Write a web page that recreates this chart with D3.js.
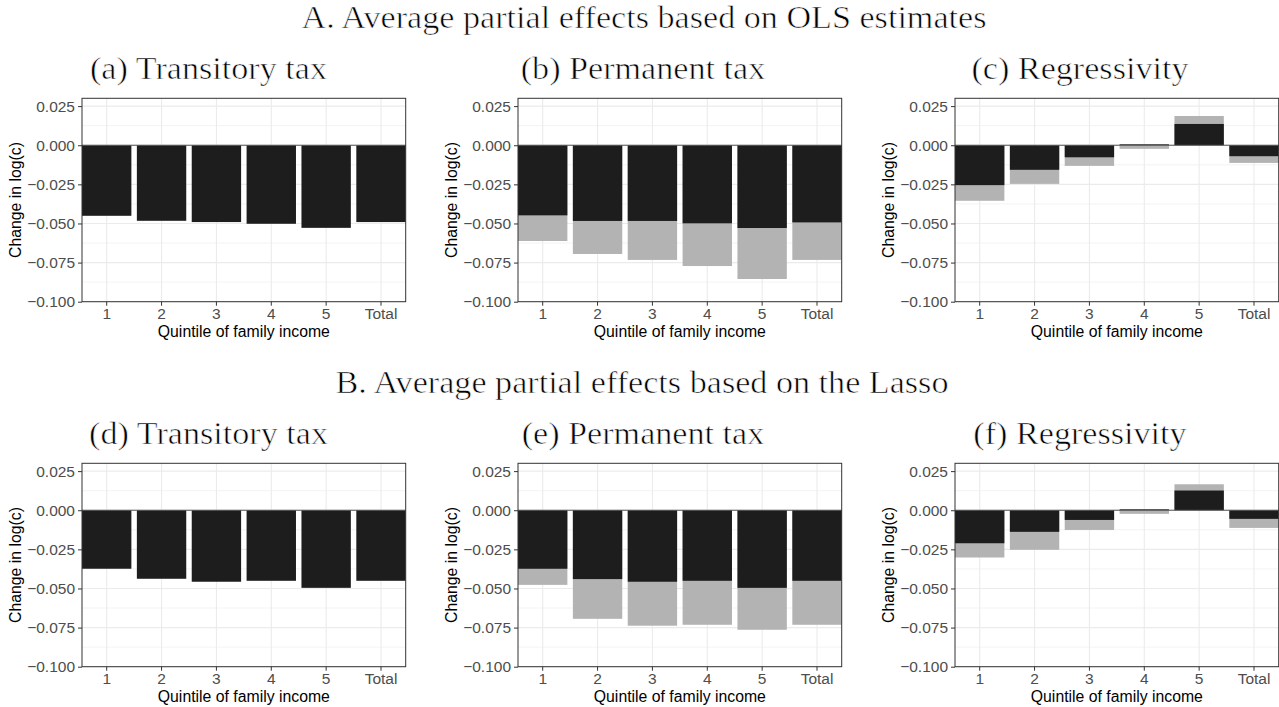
<!DOCTYPE html>
<html>
<head>
<meta charset="utf-8">
<script src="https://cdn.jsdelivr.net/npm/d3@7"></script>
<style>
  body { margin: 0; background: #fff; }
  svg { display: block; }
  .axis path { display: none; }
  .axis line { stroke: #333; }
  .axis text { fill: #4d4d4d; font-family: 'Liberation Sans', Arial, sans-serif; font-size: 15.5px; }
  .serif { font-family: 'Liberation Serif', 'Times New Roman', serif; fill: #000; stroke: #fff; stroke-width: 0.6px; }
  .axTitle { font-family: 'Liberation Sans', Arial, sans-serif; font-size: 15.8px; fill: #000; }
</style>
</head>
<body>
<svg width="1279" height="707"></svg>
<script>
var categories = ['1', '2', '3', '4', '5', 'Total']
var yTicks = [0.025, 0, -0.025, -0.05, -0.075, -0.1]
var yMinor = [0.0125, -0.0125, -0.0375, -0.0625, -0.0875]

var sectionTitles = ['A. Average partial effects based on OLS estimates', 'B. Average partial effects based on the Lasso']
var panelTitles = [['(a) Transitory tax', '(b) Permanent tax', '(c) Regressivity'],
                   ['(d) Transitory tax', '(e) Permanent tax', '(f) Regressivity']]

// OLS (black = front bar, grey = back bar)
var olsTransitory = [-0.0451, -0.0483, -0.0491, -0.0502, -0.0528, -0.0491]
var olsPermBlack = [-0.0448, -0.0484, -0.0484, -0.0499, -0.0529, -0.0493]
var olsPermGrey = [-0.0612, -0.0695, -0.0733, -0.0772, -0.0855, -0.0733]
var olsRegBlack = [-0.0255, -0.0157, -0.0077, 0.0006, 0.0136, -0.0070]
var olsRegGrey = [-0.0355, -0.0247, -0.0132, -0.0023, 0.0187, -0.0113]

// Lasso
var lassoTransitory = [-0.0374, -0.0438, -0.0457, -0.0451, -0.0496, -0.0451]
var lassoPermBlack = [-0.0374, -0.0440, -0.0457, -0.0451, -0.0496, -0.0451]
var lassoPermGrey = [-0.0477, -0.0694, -0.0738, -0.0732, -0.0764, -0.0732]
var lassoRegBlack = [-0.0211, -0.0138, -0.0062, 0.0006, 0.0126, -0.0055]
var lassoRegGrey = [-0.0302, -0.0253, -0.0126, -0.0023, 0.0166, -0.0113]

var panelData = [
  [[null, olsTransitory], [olsPermGrey, olsPermBlack], [olsRegGrey, olsRegBlack]],
  [[null, lassoTransitory], [lassoPermGrey, lassoPermBlack], [lassoRegGrey, lassoRegBlack]]
]

var svg = d3.select('svg')
var plotW = 323.7
var plotH = 203.4
var colLeft = [82, 518, 955]
var colCenter = [208.5, 643, 1080]
var rowTop = [98.3, 463.3]
var rowShift = 365

// serif titles: widen Times-like glyphs to match Computer Modern proportions
function serifTitle(txt, cx, y) {
  var t = svg.append('text').attr('class', 'serif')
    .attr('font-size', '30.5px')
    .attr('text-anchor', 'middle')
    .attr('x', cx).attr('y', y)
    .text(txt)
  return t
}

var tA = serifTitle(sectionTitles[0], 644, 28)
var k = 685 / tA.node().getComputedTextLength()
tA.attr('textLength', 685).attr('lengthAdjust', 'spacingAndGlyphs')
var tB = serifTitle(sectionTitles[1], 642, 28 + rowShift)
tB.attr('textLength', tB.node().getComputedTextLength() * k).attr('lengthAdjust', 'spacingAndGlyphs')

var y = d3.scaleLinear().domain([-0.1, 0.03]).range([plotH, 0])
var x = d3.scaleBand().domain(categories).range([0, plotW]).paddingInner(0.1).paddingOuter(0)

for (var r = 0; r < 2; r++) {
  for (var c = 0; c < 3; c++) {
    var pt = serifTitle(panelTitles[r][c], colCenter[c], 79 + r * rowShift)
    pt.attr('textLength', pt.node().getComputedTextLength() * k).attr('lengthAdjust', 'spacingAndGlyphs')

    var g = svg.append('g').attr('transform', 'translate(' + colLeft[c] + ',' + rowTop[r] + ')')

    // grid
    g.selectAll('.minor').data(yMinor).enter().append('line')
      .attr('x1', 0).attr('x2', plotW)
      .attr('y1', function(d) { return y(d) }).attr('y2', function(d) { return y(d) })
      .attr('stroke', '#ebebeb').attr('stroke-width', 0.6)
    g.selectAll('.major').data(yTicks).enter().append('line')
      .attr('x1', 0).attr('x2', plotW)
      .attr('y1', function(d) { return y(d) }).attr('y2', function(d) { return y(d) })
      .attr('stroke', '#ebebeb').attr('stroke-width', 1.1)
    g.selectAll('.vgrid').data(categories).enter().append('line')
      .attr('x1', function(d) { return x(d) + x.bandwidth() / 2 })
      .attr('x2', function(d) { return x(d) + x.bandwidth() / 2 })
      .attr('y1', 0).attr('y2', plotH)
      .attr('stroke', '#ebebeb').attr('stroke-width', 1.1)

    var grey = panelData[r][c][0]
    var black = panelData[r][c][1]

    if (grey) {
      g.selectAll('.greyBar').data(grey).enter().append('rect')
        .attr('x', function(d, i) { return x(categories[i]) })
        .attr('width', x.bandwidth())
        .attr('y', function(d) { return y(Math.max(0, d)) })
        .attr('height', function(d) { return Math.abs(y(d) - y(0)) })
        .attr('fill', '#b3b3b3')
    }
    g.selectAll('.blackBar').data(black).enter().append('rect')
      .attr('x', function(d, i) { return x(categories[i]) })
      .attr('width', x.bandwidth())
      .attr('y', function(d) { return y(Math.max(0, d)) })
      .attr('height', function(d) { return Math.abs(y(d) - y(0)) })
      .attr('fill', '#1d1d1d')

    // zero line
    g.append('line')
      .attr('x1', 0).attr('x2', plotW)
      .attr('y1', y(0)).attr('y2', y(0))
      .attr('stroke', '#555').attr('stroke-width', 1)

    // border
    g.append('rect')
      .attr('width', plotW).attr('height', plotH)
      .attr('fill', 'none').attr('stroke', '#333').attr('stroke-width', 1)

    g.append('g').attr('class', 'axis')
      .call(d3.axisLeft(y).tickValues(yTicks).tickSize(4).tickPadding(3).tickFormat(d3.format('.3f')))
    g.append('g').attr('class', 'axis')
      .attr('transform', 'translate(0,' + plotH + ')')
      .call(d3.axisBottom(x).tickSize(4).tickPadding(2))

    g.append('text').attr('class', 'axTitle')
      .attr('text-anchor', 'middle')
      .attr('x', plotW / 2).attr('y', plotH + 35)
      .text('Quintile of family income')
    g.append('text').attr('class', 'axTitle')
      .attr('text-anchor', 'middle')
      .attr('transform', 'translate(' + (-61) + ',' + (plotH / 2) + ') rotate(-90)')
      .text('Change in log(c)')
  }
}
</script>
</body>
</html>
